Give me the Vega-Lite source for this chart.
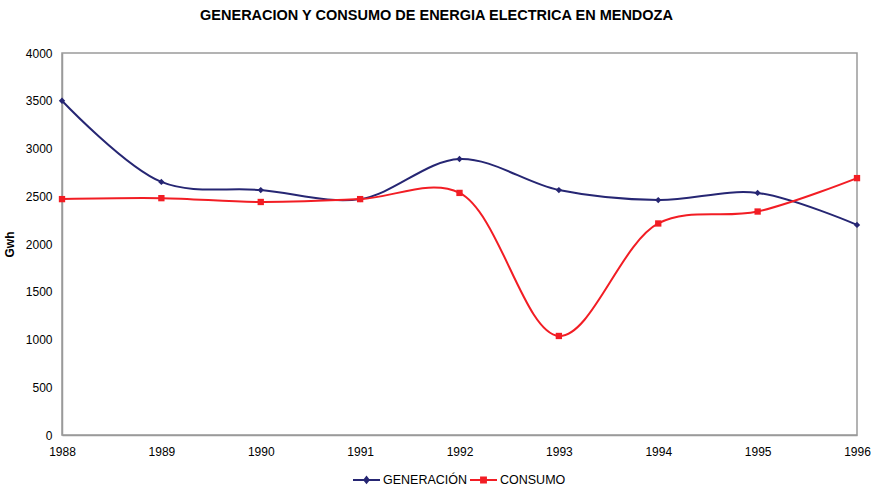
{
  "$schema": "https://vega.github.io/schema/vega-lite/v6.json",
  "width": 795,
  "height": 382,
  "autosize": "none",
  "padding": {"left": 62, "top": 53, "right": 14, "bottom": 53},
  "background": "white",
  "config": {
    "font": "Liberation Sans",
    "view": {"stroke": "#9a9a9a", "strokeWidth": 1.5}
  },
  "title": {
    "text": "GENERACION Y CONSUMO DE ENERGIA ELECTRICA EN MENDOZA",
    "fontSize": 14.5,
    "fontWeight": "bold",
    "color": "black",
    "anchor": "middle",
    "dx": -23,
    "offset": 24
  },
  "data": {
    "values": [
      {"year": 1988, "serie": "GENERACIÓN", "value": 3500},
      {"year": 1989, "serie": "GENERACIÓN", "value": 2650},
      {"year": 1990, "serie": "GENERACIÓN", "value": 2565},
      {"year": 1991, "serie": "GENERACIÓN", "value": 2470},
      {"year": 1992, "serie": "GENERACIÓN", "value": 2890},
      {"year": 1993, "serie": "GENERACIÓN", "value": 2565},
      {"year": 1994, "serie": "GENERACIÓN", "value": 2460},
      {"year": 1995, "serie": "GENERACIÓN", "value": 2535},
      {"year": 1996, "serie": "GENERACIÓN", "value": 2200},
      {"year": 1988, "serie": "CONSUMO", "value": 2470},
      {"year": 1989, "serie": "CONSUMO", "value": 2480},
      {"year": 1990, "serie": "CONSUMO", "value": 2440},
      {"year": 1991, "serie": "CONSUMO", "value": 2470},
      {"year": 1992, "serie": "CONSUMO", "value": 2535},
      {"year": 1993, "serie": "CONSUMO", "value": 1037},
      {"year": 1994, "serie": "CONSUMO", "value": 2215},
      {"year": 1995, "serie": "CONSUMO", "value": 2340},
      {"year": 1996, "serie": "CONSUMO", "value": 2690}
    ]
  },
  "encoding": {
    "x": {
      "field": "year",
      "type": "quantitative",
      "scale": {"domain": [1988, 1996], "nice": false, "zero": false},
      "axis": {
        "title": null,
        "format": "d",
        "values": [1988, 1989, 1990, 1991, 1992, 1993, 1994, 1995, 1996],
        "grid": false,
        "ticks": false,
        "labelPadding": 11,
        "labelFontSize": 12,
        "labelColor": "black",
        "labelFlush": false,
        "domainColor": "#9a9a9a",
        "domainWidth": 1.5
      }
    },
    "y": {
      "field": "value",
      "type": "quantitative",
      "scale": {"domain": [0, 4000], "nice": false},
      "axis": {
        "title": "Gwh",
        "titleFontSize": 12,
        "titleFontWeight": "bold",
        "titleColor": "black",
        "titlePadding": 9,
        "format": "d",
        "values": [0, 500, 1000, 1500, 2000, 2500, 3000, 3500, 4000],
        "grid": false,
        "ticks": false,
        "labelPadding": 10,
        "labelFontSize": 12,
        "labelColor": "black",
        "domainColor": "#9a9a9a",
        "domainWidth": 1.5
      }
    }
  },
  "layer": [
    {
      "mark": {"type": "line", "interpolate": "catmull-rom", "strokeWidth": 2},
      "encoding": {
        "color": {
          "field": "serie",
          "type": "nominal",
          "scale": {"domain": ["GENERACIÓN", "CONSUMO"], "range": ["#262673", "#F21D24"]},
          "legend": {
            "title": null,
            "orient": "none",
            "direction": "horizontal",
            "legendX": 290,
            "legendY": 412,
            "labelFontSize": 12.5,
            "labelColor": "black",
            "symbolSize": 729,
            "symbolStrokeWidth": 2,
            "symbolType": {"expr": "datum.value === 'CONSUMO' ? 'M-1,0H1M-0.18,-0.18H0.18V0.18H-0.18Z' : 'M-1,0H1M0,-0.2L0.16,0L0,0.2L-0.16,0Z'"},
            "columnPadding": -2,
            "labelOffset": 2
          }
        }
      }
    },
    {
      "transform": [{"filter": "datum.serie === 'GENERACIÓN'"}],
      "mark": {"type": "point", "shape": "diamond", "filled": true, "opacity": 1, "size": 40},
      "encoding": {
        "color": {"field": "serie", "type": "nominal", "legend": null}
      }
    },
    {
      "transform": [{"filter": "datum.serie === 'CONSUMO'"}],
      "mark": {"type": "point", "shape": "square", "filled": true, "opacity": 1, "size": 40},
      "encoding": {
        "color": {"field": "serie", "type": "nominal", "legend": null}
      }
    }
  ]
}
